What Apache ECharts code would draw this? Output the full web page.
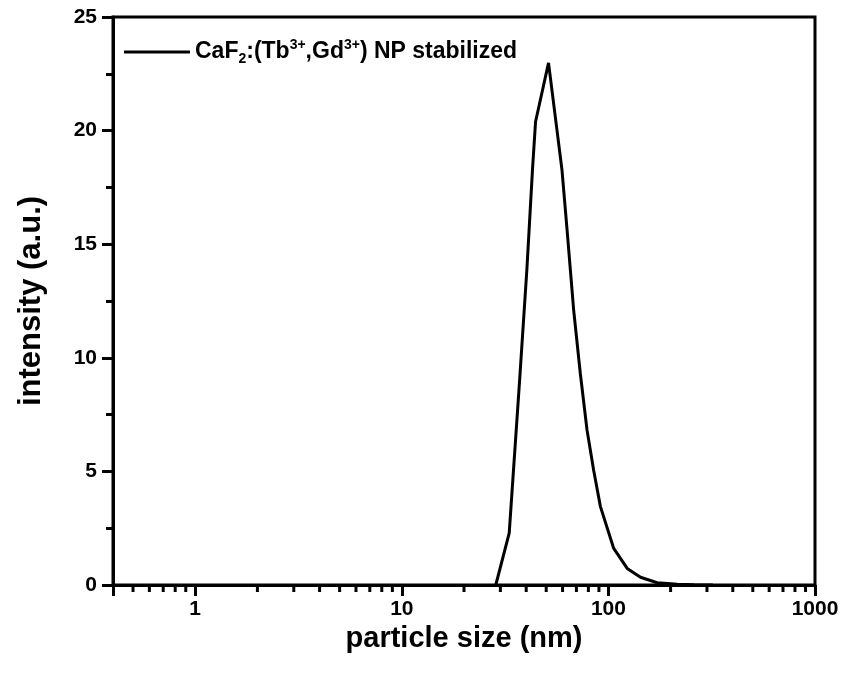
<!DOCTYPE html>
<html><head><meta charset="utf-8">
<script src="https://cdn.jsdelivr.net/npm/echarts@6/dist/echarts.min.js"></script>
<style>html,body{margin:0;padding:0;background:#fff}#c{width:845px;height:680px}</style>
</head><body><div id="c"></div>
<script>
const sizes = [28.5, 33.1, 37.1, 40.3, 42.9, 44.4, 51.3, 59.6, 63.0, 67.9, 73.1, 78.8, 84.8, 91.5, 106.1, 123.3, 143.0, 172.3, 215.6, 260, 320];
const intensity = [0, 2.28, 8.9, 13.88, 18.27, 20.39, 22.98, 18.27, 15.7, 12.1, 9.32, 6.82, 5.06, 3.45, 1.61, 0.73, 0.34, 0.10, 0.03, 0.01, 0];
const xMajorLabels = [1, 10, 100, 1000];
const xMinorTicks = [0.5,0.6,0.7,0.8,0.9,2,3,4,5,6,7,8,9,20,30,40,50,60,70,80,90,200,300,400,500,600,700,800,900];
const seriesName = 'CaF2:(Tb3+,Gd3+) NP stabilized';

const FONT = '"Liberation Sans", Arial, sans-serif';
const chart = echarts.init(document.getElementById('c'), null, {renderer: 'canvas'});
chart.setOption({
  animation: false,
  backgroundColor: '#fff',
  grid: {left: 113, right: 30, top: 17, bottom: 95, show: true, borderColor: '#000', borderWidth: 3, backgroundColor: 'transparent'},
  legend: {
    data: [{name: seriesName, icon: 'rect'}], left: 119, top: 33, itemWidth: 66, itemHeight: 3, itemGap: 8,
    itemStyle: {color: '#000', borderWidth: 0},
    formatter: () => '{n|CaF}{sub|2}{n|:(Tb}{sup|3+}{n|,Gd}{sup|3+}{n|) NP stabilized}',
    textStyle: {
      fontFamily: FONT, fontWeight: 'bold', color: '#000',
      rich: {
        n: {fontFamily: FONT, fontWeight: 'bold', fontSize: 23, color: '#000', lineHeight: 28},
        sub: {fontFamily: FONT, fontWeight: 'bold', fontSize: 14, color: '#000', verticalAlign: 'bottom', lineHeight: 28, padding: [12, 0, 0, 0]},
        sup: {fontFamily: FONT, fontWeight: 'bold', fontSize: 14, color: '#000', verticalAlign: 'top', lineHeight: 28, padding: [0, 0, 12, 0]}
      }
    }
  },
  xAxis: {
    type: 'log', logBase: 10, min: 0.4, max: 1000,
    name: 'particle size (nm)', nameLocation: 'middle', nameGap: 36,
    nameTextStyle: {fontFamily: FONT, fontWeight: 'bold', fontSize: 29, color: '#000'},
    axisLine: {lineStyle: {color: '#000', width: 3}},
    axisTick: {show: true, inside: false, length: 11, lineStyle: {color: '#000', width: 3}},
    minorTick: {show: false},
    splitLine: {show: false},
    axisLabel: {
      fontFamily: FONT, fontWeight: 'bold', fontSize: 21, color: '#000', margin: 14,
      formatter: v => { const r = Math.round(v * 1000) / 1000; return xMajorLabels.includes(r) ? String(r) : ''; }
    }
  },
  yAxis: {
    type: 'value', min: 0, max: 25, interval: 5,
    name: 'intensity (a.u.)', nameLocation: 'middle', nameGap: 66,
    nameTextStyle: {fontFamily: FONT, fontWeight: 'bold', fontSize: 31, color: '#000'},
    axisLine: {show: true, lineStyle: {color: '#000', width: 3}},
    axisTick: {show: true, inside: false, length: 11, lineStyle: {color: '#000', width: 3}},
    minorTick: {show: true, splitNumber: 2, length: 7, lineStyle: {color: '#000', width: 3}},
    splitLine: {show: false},
    axisLabel: {fontFamily: FONT, fontWeight: 'bold', fontSize: 21, color: '#000', margin: 16}
  },
  series: [
    {
      name: seriesName, type: 'line', showSymbol: false, symbol: 'none',
      data: sizes.map((s, i) => [s, intensity[i]]),
      lineStyle: {color: '#000', width: 3}, itemStyle: {color: '#000'}
    },
    {
      name: 'minorTicks', type: 'custom', silent: true, clip: false,
      data: xMinorTicks.map(v => [v, 0]),
      renderItem: (params, api) => {
        const p = api.coord([api.value(0), 0]);
        return {type: 'line', shape: {x1: p[0], y1: p[1], x2: p[0], y2: p[1] + 7}, style: {stroke: '#000', lineWidth: 3}};
      }
    }
  ]
});
</script></body></html>
